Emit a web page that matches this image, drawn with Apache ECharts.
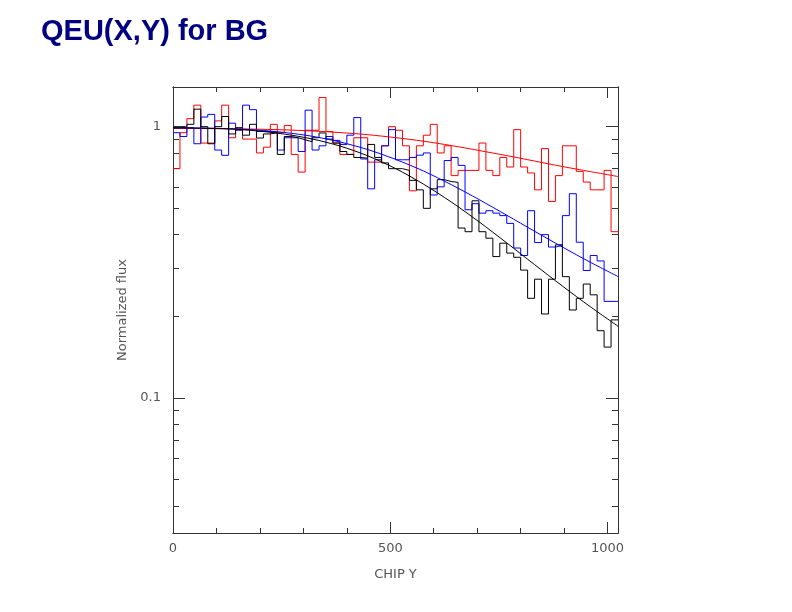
<!DOCTYPE html>
<html>
<head>
<meta charset="utf-8">
<script src="https://cdn.jsdelivr.net/npm/echarts@6.0.0/dist/echarts.min.js"></script>
<style>
  html, body { margin: 0; padding: 0; background: #fff; }
  #chart { width: 792px; height: 612px; }
</style>
</head>
<body>
<div id="chart"></div>
<script>
// ---- data ----
var BIN_WIDTH = 16;           // chip pixels per histogram bin
var X_MAX = 1024;
var Y_MIN = 0.0318, Y_MAX = 1.40;

var redHist = [0.70,0.95,1.07,1.20,0.87,0.87,1.05,1.20,0.91,0.99,
               0.90,0.90,0.80,0.84,1.02,0.95,1.01,0.79,0.68,0.97,
               0.97,1.28,0.96,0.87,0.79,0.79,0.91,0.91,0.74,0.74,
               0.85,1.00,0.97,0.85,0.58,0.85,0.93,1.02,0.80,0.85,
               0.66,0.69,0.69,0.69,0.87,0.69,0.66,0.77,0.71,0.975,
               0.71,0.675,0.585,0.83,0.53,0.66,0.85,0.85,0.684,0.625,
               0.585,0.585,0.69,0.41];
var blueHist = [0.95,0.92,0.99,0.865,1.085,1.11,0.82,0.784,1.03,0.97,
                1.20,1.155,0.96,0.96,0.95,0.82,0.91,0.91,0.81,1.15,
                0.82,0.85,0.92,0.89,0.86,0.93,1.08,0.76,0.59,0.755,
                0.85,0.975,0.755,0.755,0.77,0.785,0.80,0.56,0.60,0.75,
                0.77,0.72,0.494,0.52,0.48,0.49,0.48,0.47,0.44,0.357,
                0.335,0.49,0.374,0.40,0.36,0.365,0.47,0.566,0.375,0.295,
                0.335,0.32,0.227,0.227];
var blackHist = [0.99,1.00,1.02,1.16,1.00,0.865,1.00,1.09,0.94,0.99,
                 0.93,1.02,0.908,0.94,0.95,0.79,0.92,0.91,0.895,0.88,
                 0.91,0.948,0.90,0.87,0.81,0.79,0.77,0.765,0.86,0.77,
                 0.735,0.70,0.70,0.69,0.634,0.585,0.50,0.59,0.638,0.628,
                 0.623,0.423,0.41,0.533,0.41,0.388,0.332,0.372,0.342,0.33,
                 0.296,0.233,0.274,0.204,0.274,0.367,0.28,0.211,0.233,0.263,
                 0.24,0.177,0.154,0.194];

// smooth fit curves, sampled every 64 chip pixels
var fitX = [0,64,128,192,256,320,384,448,512,576,640,704,768,832,896,960,1024];
var redFit   = [0.985,0.984,0.982,0.979,0.973,0.964,0.951,0.934,0.911,0.884,0.852,0.817,0.782,0.747,0.713,0.683,0.655];
var blueFit  = [0.990,0.9876,0.9831,0.9719,0.9519,0.9218,0.8781,0.8234,0.7577,0.6867,0.6116,0.5389,0.4716,0.4116,0.3601,0.3166,0.2803];
var blackFit = [0.990,0.9876,0.9809,0.9652,0.9389,0.9008,0.8486,0.7808,0.7009,0.6145,0.5281,0.4463,0.3728,0.3101,0.2586,0.2171,0.1839];

var xMajorTicks = [0, 500, 1000];
var xMinorTicks = [100, 200, 300, 400, 600, 700, 800, 900];
var yMajorTicks = [0.1, 1];
var yMinorTicks = [0.04,0.05,0.06,0.07,0.08,0.09,0.2,0.3,0.4,0.5,0.6,0.7,0.8,0.9];

// ---- helpers ----
function histData(vals) {
  var d = vals.map(function (v, i) { return [i * BIN_WIDTH, v]; });
  d.push([vals.length * BIN_WIDTH, vals[vals.length - 1]]);
  return d;
}
function fitData(vals) {
  return vals.map(function (v, i) { return [fitX[i], v]; });
}

var AXIS_COLOR = '#333';
var TEXT_COLOR = '#555';
var FONT = 'DejaVu Sans';

function xAx(pos, ticks, len, labels, extra) {
  var a = {
    type: 'value', min: 0, max: X_MAX, position: pos,
    axisLine: { show: true, onZero: false, lineStyle: { color: AXIS_COLOR, width: 1 } },
    axisTick: { show: true, inside: true, length: len, customValues: ticks, lineStyle: { color: AXIS_COLOR, width: 1 } },
    axisLabel: labels ? { show: true, customValues: ticks, margin: 9, color: TEXT_COLOR, fontFamily: FONT, fontSize: 13,
                          formatter: function (v) { return String(Math.round(v)); } } : { show: false },
    splitLine: { show: false }
  };
  return Object.assign(a, extra || {});
}
function yAx(pos, ticks, len, labels, extra) {
  var a = {
    type: 'log', logBase: 10, min: Y_MIN, max: Y_MAX, position: pos,
    axisLine: { show: true, onZero: false, lineStyle: { color: AXIS_COLOR, width: 1 } },
    axisTick: { show: true, inside: true, length: len, customValues: ticks, lineStyle: { color: AXIS_COLOR, width: 1 } },
    axisLabel: labels ? { show: true, customValues: ticks, margin: 12, color: TEXT_COLOR, fontFamily: FONT, fontSize: 13,
                          formatter: function (v) { return v >= 1 ? '1' : String(+v.toPrecision(3)); } } : { show: false },
    splitLine: { show: false }
  };
  return Object.assign(a, extra || {});
}

var chart = echarts.init(document.getElementById('chart'), null, { renderer: 'canvas' });

function lineSeries(name, data, color, step) {
  var s = {
    name: name, type: 'line', data: data, xAxisIndex: 0, yAxisIndex: 0,
    showSymbol: false, symbol: 'none', animation: false,
    lineStyle: { color: color, width: 1 }, itemStyle: { color: color }, z: 3
  };
  if (step) { s.step = 'end'; } else { s.smooth = 0.3; }
  return s;
}

chart.setOption({
  animation: false,
  backgroundColor: '#fff',
  title: {
    text: 'QEU(X,Y) for BG', left: 36, top: 12,
    textStyle: { fontFamily: 'Liberation Sans', fontWeight: 'bold', fontSize: 29, color: '#000080' }
  },
  grid: { left: 173, right: 174, top: 87, bottom: 79, containLabel: false },
  xAxis: [
    xAx('bottom', xMajorTicks, 11, true, {
      name: 'CHIP Y', nameLocation: 'middle', nameGap: 35,
      nameTextStyle: { color: TEXT_COLOR, fontFamily: FONT, fontSize: 13 }
    }),
    xAx('bottom', xMinorTicks, 5, false),
    xAx('top', xMajorTicks, 11, false),
    xAx('top', xMinorTicks, 5, false)
  ],
  yAxis: [
    yAx('left', yMajorTicks, 12, true, {
      name: 'Normalized flux', nameLocation: 'middle', nameGap: 39, nameRotate: 90,
      nameTextStyle: { color: TEXT_COLOR, fontFamily: FONT, fontSize: 13 }
    }),
    yAx('left', yMinorTicks, 6, false),
    yAx('right', yMajorTicks, 12, false),
    yAx('right', yMinorTicks, 6, false)
  ],
  series: [
    lineSeries('red', histData(redHist), '#ff0000', true),
    lineSeries('blue', histData(blueHist), '#0000ff', true),
    lineSeries('black', histData(blackHist), '#000000', true),
    lineSeries('red fit', fitData(redFit), '#ff0000', false),
    lineSeries('blue fit', fitData(blueFit), '#0000ff', false),
    lineSeries('black fit', fitData(blackFit), '#000000', false)
  ]
});
</script>
</body>
</html>
